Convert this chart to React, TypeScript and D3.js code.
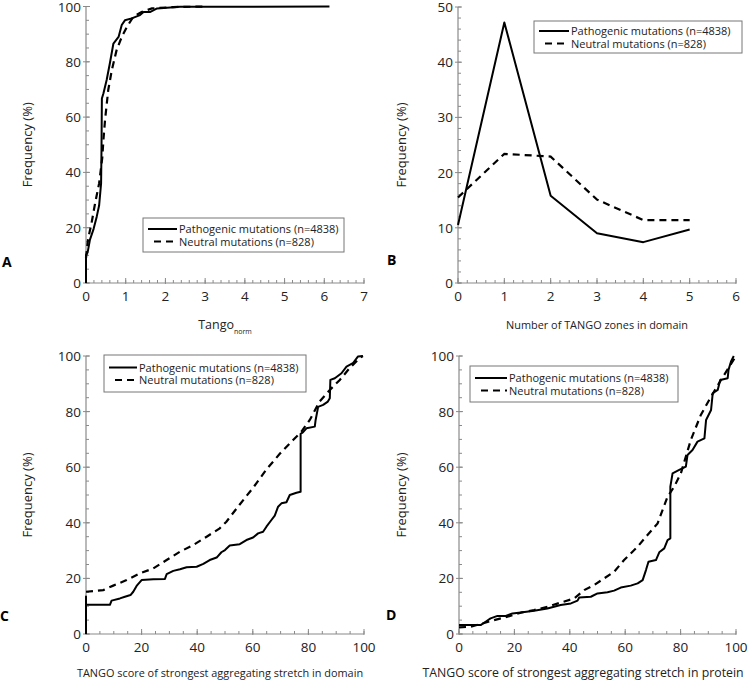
import React from "react";
import * as d3 from "d3";

const FONT = "'Open Sans', sans-serif";

// panel A: cumulative frequency vs Tango_norm
const normPathogenic: [number, number][] = [
  [0, 0], [0, 10], [0.04, 11], [0.1, 15.7], [0.19, 19.5], [0.27, 24], [0.33, 28],
  [0.38, 36], [0.39, 48], [0.4, 66.7], [0.44, 68.6], [0.52, 73.4], [0.6, 79.4],
  [0.69, 86.6], [0.82, 89], [0.9, 93.3], [0.98, 95], [1.15, 95.7], [1.36, 96.9],
  [1.45, 98], [1.61, 98], [1.79, 99.3], [2.37, 99.9], [6.13, 100],
];
const normNeutral: [number, number][] = [
  [0, 9], [0.05, 15.7], [0.14, 21.7], [0.23, 28.9], [0.33, 36], [0.41, 45.3],
  [0.44, 52], [0.48, 59], [0.56, 69.8], [0.65, 77], [0.77, 84.2], [0.9, 89],
  [1.03, 92.6], [1.19, 96.3], [1.4, 98], [1.66, 99.3], [2.2, 99.8], [3.0, 100],
];

// panel B: number of TANGO zones in domain
const zones = [0, 1, 2, 3, 4, 5];
const zonesPathogenic = [10.5, 47.2, 15.8, 9.0, 7.4, 9.7];
const zonesNeutral = [15.5, 23.4, 22.9, 15.1, 11.4, 11.4];

// panel C: strongest stretch in domain
const domainPathogenic: [number, number][] = [
  [0, 0], [0, 13.5], [0, 10.5], [8.6, 10.5], [9.2, 12], [12.2, 12.8], [14, 13.4],
  [16, 14], [17, 15.2], [18.2, 17.3], [20, 19.4], [24.2, 19.7], [28.4, 19.8],
  [29, 21.5], [31.4, 22.7], [33.8, 23.3], [36.2, 24], [39.8, 24.2], [42.2, 25.2],
  [44.5, 26.6], [47, 27.5], [48.7, 29.4], [50, 30.2], [51.7, 31.8], [55.3, 32.3],
  [57.7, 33.8], [60.1, 34.7], [61.9, 36.2], [63.7, 36.8], [64.9, 38.6], [66.7, 41],
  [67.9, 42.6], [69.1, 45.8], [70.3, 47], [72.1, 47.4], [73.3, 50], [75.7, 50.8],
  [77.2, 51.2], [77.2, 72], [78, 72.5], [79.3, 74], [82.3, 74.6], [82.6, 77],
  [83.5, 81.7], [85.3, 82.4], [87, 83.6], [87.7, 84.8], [87.9, 91.4], [89.5, 92],
  [91.9, 93.8], [93.7, 96.2], [96, 97.4], [97.8, 99.8], [99.6, 100],
];
const domainNeutral: [number, number][] = [
  [0, 15.2], [6.2, 15.8], [9.8, 17.4], [14.6, 19.4], [19.4, 21.8], [24.2, 23.6],
  [29, 26.6], [33.8, 29.6], [38.6, 32], [43.4, 35], [48.1, 38], [50.5, 40.4],
  [55.3, 46.6], [60.1, 52.6], [64.9, 59.2], [69.7, 64.8], [74.5, 69.8], [77.5, 72.8],
  [80.5, 77], [84, 83.6], [87.7, 87.8], [91.3, 91.4], [94.8, 95.6], [98.4, 99.2],
  [99.6, 100],
];

// panel D: strongest stretch in protein
const proteinPathogenic: [number, number][] = [
  [0, 3.2], [7.8, 3.2], [9.6, 4.4], [11.4, 5.6], [13.9, 6.5], [16.9, 6.5],
  [19.3, 7.4], [22.3, 7.7], [27.1, 8.4], [31.9, 9.2], [36.7, 10.4], [40.4, 11],
  [42.8, 12], [43.4, 13.1], [47.6, 13.4], [50, 14.6], [53.6, 15], [56, 15.6],
  [58.4, 16.7], [62, 17.4], [64.5, 18.2], [66.3, 19.4], [67.5, 23], [68.4, 26],
  [71.1, 26.6], [72.3, 29.4], [74.1, 30.8], [75.3, 33.8], [76.3, 34.4],
  [76.3, 53], [77.1, 57.8], [79.5, 59], [81.9, 60.2], [82.5, 64.4], [84.3, 66.2],
  [86.1, 69.2], [88.6, 70.4], [89.2, 77], [91, 80.6], [91.6, 86.6], [93.4, 87.8],
  [94.3, 91.4], [97, 92], [97.3, 95], [98.2, 98], [99.2, 100],
];
const proteinNeutral: [number, number][] = [
  [0, 2.4], [4.2, 2.6], [7.8, 3.6], [12.7, 5], [17.5, 6.2], [22.3, 7.7],
  [27.1, 8.6], [31.9, 9.8], [36.7, 11.3], [41.6, 12.8], [45.2, 15.8], [48.8, 17.6],
  [52.4, 20], [56, 22.4], [59.6, 26.6], [64.5, 31.4], [67.5, 35], [71.7, 39.8],
  [75.3, 49.4], [77.7, 53], [80.1, 57.8], [83.7, 69.8], [87.3, 78.8], [91, 85.4],
  [94.6, 91.4], [97.6, 96.2], [100, 100],
];

const legendLabels = ["Pathogenic mutations (n=4838)", "Neutral mutations (n=828)"];

type Legend = { x: number; y: number; w: number; h: number; textX: number; fs: number };

type PanelProps = {
  px: [number, number];
  py: [number, number];
  xDomain: [number, number];
  yDomain: [number, number];
  xMajor: number;
  xMinor: number;
  yMajor: number;
  yMinor: number;
  solid: [number, number][];
  dashed: [number, number][];
  legend: Legend;
  xTitle: React.ReactNode;
  xTitleX: number;
  xTitleY: number;
  xTitleSize: number;
  yTitleX: number;
  label: string;
  labelX: number;
  labelY: number;
};

const steps = (a: number, b: number, s: number) =>
  d3.range(0, Math.round((b - a) / s) + 1).map((i) => +(a + i * s).toFixed(6));

const Panel = (p: PanelProps) => {
  const x = d3.scaleLinear().domain(p.xDomain).range(p.px);
  const y = d3.scaleLinear().domain(p.yDomain).range(p.py);
  const line = d3
    .line<[number, number]>()
    .x((d) => x(d[0]))
    .y((d) => y(d[1]));
  const ax = "#8a8a8a";
  const y0 = p.py[0];
  const x0 = p.px[0];
  const lg = p.legend;
  const row1 = lg.y + lg.h / 2 - 6;
  const row2 = lg.y + lg.h / 2 + 6.5;
  return (
    <g>
      <line x1={x0} x2={p.px[1]} y1={y0} y2={y0} stroke={ax} strokeWidth={1.2} />
      <line x1={x0} x2={x0} y1={y0} y2={p.py[1]} stroke={ax} strokeWidth={1.2} />
      {steps(p.xDomain[0], p.xDomain[1], p.xMinor).map((v) => (
        <line key={"xm" + v} x1={x(v)} x2={x(v)} y1={y0} y2={y0 - 3} stroke={ax} />
      ))}
      {steps(p.xDomain[0], p.xDomain[1], p.xMajor).map((v) => (
        <g key={"xM" + v}>
          <line x1={x(v)} x2={x(v)} y1={y0 + 1} y2={y0 - 5} stroke={ax} />
          <text x={x(v)} y={y0 + 18} textAnchor="middle" fontSize={13.5} fill="#222">
            {v}
          </text>
        </g>
      ))}
      {steps(p.yDomain[0], p.yDomain[1], p.yMinor).map((v) => (
        <line key={"ym" + v} x1={x0} x2={x0 + 3} y1={y(v)} y2={y(v)} stroke={ax} />
      ))}
      {steps(p.yDomain[0], p.yDomain[1], p.yMajor).map((v) => (
        <g key={"yM" + v}>
          <line x1={x0 - 3} x2={x0 + 4} y1={y(v)} y2={y(v)} stroke={ax} />
          <text x={x0 - 5} y={y(v) + 5} textAnchor="end" fontSize={13.5} fill="#222">
            {v}
          </text>
        </g>
      ))}
      <path d={line(p.solid) ?? ""} fill="none" stroke="#000" strokeWidth={2} strokeLinejoin="round" />
      <path
        d={line(p.dashed) ?? ""}
        fill="none"
        stroke="#000"
        strokeWidth={2.2}
        strokeDasharray="7,5"
      />
      <rect x={lg.x} y={lg.y} width={lg.w} height={lg.h} fill="#fff" stroke="#777" strokeWidth={1} />
      <line x1={lg.x + 5} x2={lg.textX - 2} y1={row1} y2={row1} stroke="#000" strokeWidth={2} />
      <line
        x1={lg.x + 11}
        x2={lg.textX - 2}
        y1={row2}
        y2={row2}
        stroke="#000"
        strokeWidth={2}
        strokeDasharray="7,5"
      />
      {legendLabels.map((t, i) => (
        <text key={t} x={lg.textX} y={(i === 0 ? row1 : row2) + 4} fontSize={lg.fs} fill="#222">
          {t}
        </text>
      ))}
      <text
        transform={`translate(${p.yTitleX},${(p.py[0] + p.py[1]) / 2}) rotate(-90)`}
        textAnchor="middle"
        fontSize={13}
        fill="#222"
      >
        Frequency (%)
      </text>
      <text x={p.xTitleX} y={p.xTitleY} textAnchor="middle" fontSize={p.xTitleSize} fill="#222">
        {p.xTitle}
      </text>
      <text x={p.labelX} y={p.labelY} fontSize={14} fontWeight="bold" fill="#000">
        {p.label}
      </text>
    </g>
  );
};

export default function App() {
  const zonesP = zones.map((z, i) => [z, zonesPathogenic[i]] as [number, number]);
  const zonesN = zones.map((z, i) => [z, zonesNeutral[i]] as [number, number]);
  return (
    <svg width={748} height={683} style={{ position: "absolute", left: 0, top: 0, fontFamily: FONT }}>
      <rect width={748} height={683} fill="#fff" />
      <Panel
        px={[86, 364]}
        py={[283, 6.5]}
        xDomain={[0, 7]}
        yDomain={[0, 100]}
        xMajor={1}
        xMinor={0.2}
        yMajor={20}
        yMinor={5}
        solid={normPathogenic}
        dashed={normNeutral}
        legend={{ x: 143, y: 218, w: 201, h: 34, textX: 179, fs: 11 }}
        xTitle={
          <>
            <tspan>Tango</tspan>
            <tspan fontSize={7} dy={5}>norm</tspan>
          </>
        }
        xTitleX={225}
        xTitleY={329}
        xTitleSize={12.5}
        yTitleX={32}
        label="A"
        labelX={2}
        labelY={267}
      />
      <Panel
        px={[458, 736]}
        py={[283, 7]}
        xDomain={[0, 6]}
        yDomain={[0, 50]}
        xMajor={1}
        xMinor={0.2}
        yMajor={10}
        yMinor={2}
        solid={zonesP}
        dashed={zonesN}
        legend={{ x: 534, y: 21, w: 208, h: 32, textX: 571, fs: 11 }}
        xTitle="Number of TANGO zones in domain"
        xTitleX={597}
        xTitleY={329}
        xTitleSize={10.9}
        yTitleX={406}
        label="B"
        labelX={387}
        labelY={265}
      />
      <Panel
        px={[86, 364]}
        py={[634, 356]}
        xDomain={[0, 100]}
        yDomain={[0, 100]}
        xMajor={20}
        xMinor={5}
        yMajor={20}
        yMinor={5}
        solid={domainPathogenic}
        dashed={domainNeutral}
        legend={{ x: 104, y: 355, w: 202, h: 37, textX: 139, fs: 11 }}
        xTitle="TANGO score of strongest aggregating stretch in domain"
        xTitleX={220}
        xTitleY={677}
        xTitleSize={10.9}
        yTitleX={32}
        label="C"
        labelX={0}
        labelY={621}
      />
      <Panel
        px={[459, 736]}
        py={[634, 356]}
        xDomain={[0, 100]}
        yDomain={[0, 100]}
        xMajor={20}
        xMinor={5}
        yMajor={20}
        yMinor={5}
        solid={proteinPathogenic}
        dashed={proteinNeutral}
        legend={{ x: 470, y: 366, w: 208, h: 36, textX: 509, fs: 11 }}
        xTitle="TANGO score of strongest aggregating stretch in protein"
        xTitleX={583}
        xTitleY={677}
        xTitleSize={12.3}
        yTitleX={406}
        label="D"
        labelX={386}
        labelY={620}
      />
    </svg>
  );
}
